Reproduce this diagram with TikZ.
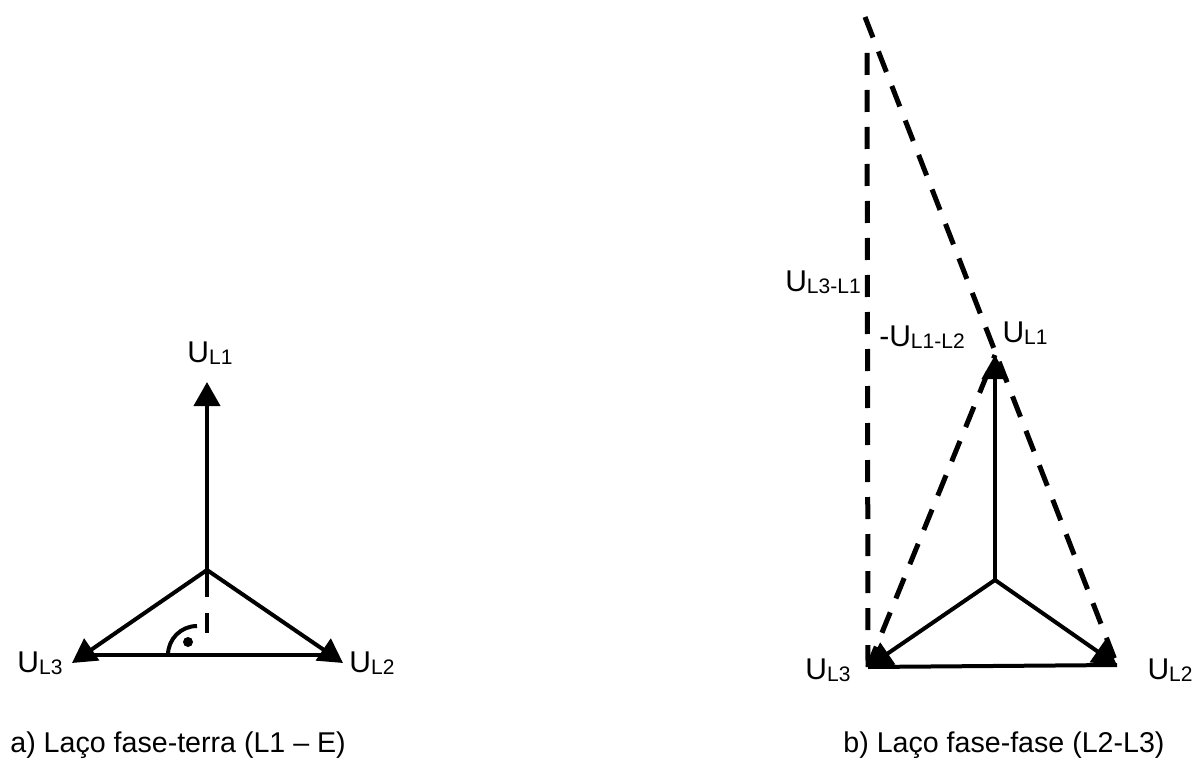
\documentclass[tikz,border=0pt]{standalone}
\usepackage{fontspec}
\setmainfont{Liberation Sans}
\usetikzlibrary{arrows.meta,positioning}
\tikzset{
  phasor/.style={-{Triangle[length=12pt,width=13pt]}, line width=2pt},
  solid line/.style={line width=2pt},
  dashln/.style={line width=2.5pt, dash pattern=on 11pt off 7.5pt},
  axisln/.style={line width=1.7pt, dash pattern=on 13.5pt off 8pt},
  lbl/.style={font=\fontsize{15}{18}\selectfont, inner sep=0pt},
  capt/.style={font=\fontsize{14.3}{17}\selectfont, inner sep=0pt, anchor=west}
}
\newcommand{\phU}[1]{U\raisebox{-1pt}{\fontsize{10.5}{12}\selectfont #1}}

\begin{document}
\begin{tikzpicture}[x=0.5pt, y=-0.5pt]
  \useasboundingbox (0,0) rectangle (1194,770);
  % a) phase-earth loop
  \coordinate (a0) at (207,570);
  \coordinate (a1) at (207,382);
  \coordinate (a2) at (343,663);
  \coordinate (a3) at (72,663);
  \coordinate (aL) at (80,655);
  \coordinate (aR) at (335,655);
  \coordinate (aF) at (207,633);
  \foreach \t in {a1,a2,a3} \draw[phasor] (a0) -- (\t);
  \draw[solid line] (aL) -- (aR);
  \draw[axisln] (a0) -- (aF);
  \draw[solid line] (168,655) arc (180:270:29);
  \fill (188,642) circle (2.5pt);
  \node[lbl] (la1) at (210,353) {\phU{L1}};
  \node[lbl] (la2) at (372,663) {\phU{L2}};
  \node[lbl] (la3) at (40,663) {\phU{L3}};
  \node[capt] (capa) at (10,745) {a) Laço fase-terra (L1 – E)};
  % b) phase-phase loop
  \coordinate (b0) at (995,580);
  \coordinate (b1) at (995,355);
  \coordinate (b2) at (1117,665);
  \coordinate (b3) at (868,667);
  \coordinate (bt) at (865,17);
  \coordinate (bv) at (867,43);
  \foreach \t in {b1,b2,b3} \draw[phasor] (b0) -- (\t);
  \draw[solid line] (b3) -- (b2);
  \draw[dashln] (b3) -- (bv);
  \draw[dashln] (bt) -- (b2);
  \draw[dashln] (b3) -- (b1);
  \node[lbl] (lb31) at (823,282) {\phU{L3-L1}};
  \node[lbl] (lb12) at (922,337) {-\phU{L1-L2}};
  \node[lbl] (lb1) at (1025,333) {\phU{L1}};
  \node[lbl] (lb3) at (828,670) {\phU{L3}};
  \node[lbl] (lb2) at (1170,670) {\phU{L2}};
  \node[capt] (capb) at (843,745) {b) Laço fase-fase (L2-L3)};
\end{tikzpicture}
\end{document}
